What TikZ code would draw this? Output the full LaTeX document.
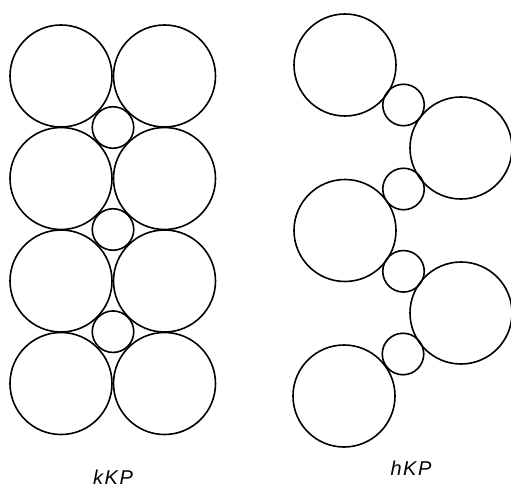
\documentclass[tikz,border=0pt]{standalone}
\usepackage{fontspec}
\setsansfont{Liberation Sans}
\begin{document}
\begin{tikzpicture}[x=1pt,y=-1pt,
  big/.style={circle,draw,line width=1.6pt,inner sep=0pt,minimum size=102pt},
  small/.style={circle,draw,line width=1.6pt,inner sep=0pt,minimum size=41.5pt},
  lbl/.style={font=\fontsize{20}{20}\selectfont\sffamily\itshape\addfontfeatures{LetterSpace=8},inner sep=0pt}]
\useasboundingbox (0,0) rectangle (511,489);
% kKP
\node[big] (kL1) at (61,76) {};
\node[big] (kR1) at (164.5,76) {};
\node[big] (kL2) at (61,178.5) {};
\node[big] (kR2) at (164.5,178.5) {};
\node[big] (kL3) at (61,281) {};
\node[big] (kR3) at (164.5,281) {};
\node[big] (kL4) at (61,383.5) {};
\node[big] (kR4) at (164.5,383.5) {};
\node[small] (ks1) at (113,127.5) {};
\node[small] (ks2) at (113,229.5) {};
\node[small] (ks3) at (113,331.7) {};
% hKP
\node[big] (hL1) at (345,65) {};
\node[big] (hR1) at (461,148) {};
\node[big] (hL2) at (345,230.5) {};
\node[big] (hR2) at (461,313) {};
\node[big] (hL3) at (344,396) {};
\node[small] (hs1) at (403.5,105) {};
\node[small] (hs2) at (403.5,189) {};
\node[small] (hs3) at (403.5,271.3) {};
\node[small] (hs4) at (403,354) {};
% labels
\node[lbl] (kl) at (113,477) {kKP};
\node[lbl] (hl) at (411,468) {hKP};
\end{tikzpicture}
\end{document}
